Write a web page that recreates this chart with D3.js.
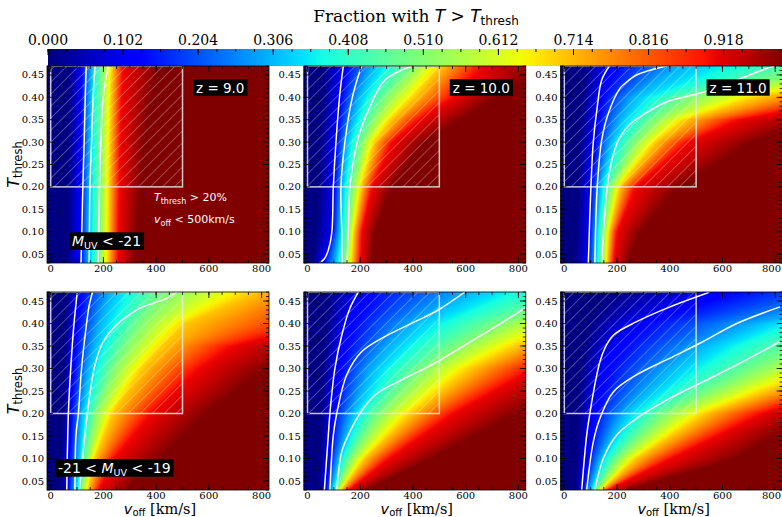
<!DOCTYPE html>
<html><head><meta charset="utf-8">
<script src="https://cdn.jsdelivr.net/npm/d3@7"></script>
<style>html,body{margin:0;padding:0;background:#fff;}svg{display:block;}</style>
</head><body>
<script>
// ---------------- data ----------------
const redshiftLabels = ["z = 9.0", "z = 10.0", "z = 11.0"];
const fracLevels = [0, 0.1, 0.3, 0.5, 0.7, 0.9, 1.0];
const threshRows = [0.03, 0.10, 0.20, 0.30, 0.35, 0.40, 0.47];

// v_off [km/s] at which the fraction reaches each of fracLevels, one row per threshRows entry
const crossBrightZ9 = [
  [60, 108, 143, 185, 219, 254, 320],
  [62, 108, 143, 187, 221, 256, 326],
  [64, 109, 145, 188, 223, 259, 340],
  [66, 110, 147, 190, 226, 262, 355],
  [67, 110, 148, 191, 228, 264, 365],
  [68, 111, 150, 192, 230, 267, 380],
  [70, 113, 153, 196, 234, 273, 410]
];
const crossBrightZ10 = [
  [20, 54, 104, 142, 170, 199, 243],
  [30, 92, 120, 155, 177, 205, 255],
  [40, 98, 130, 170, 205, 243, 319],
  [45, 104, 148, 205, 255, 319, 445],
  [50, 110, 168, 245, 320, 420, 580],
  [55, 117, 193, 294, 408, 547, 722],
  [60, 135, 245, 400, 510, 660, 900]
];
const crossBrightZ11 = [
  [40, 85, 116, 142, 163, 186, 237],
  [45, 91, 120, 148, 171, 199, 287],
  [50, 97, 135, 173, 211, 268, 439],
  [55, 110, 173, 262, 350, 464, 716],
  [60, 117, 211, 338, 464, 654, 950],
  [65, 129, 262, 470, 740, 1100, 1500],
  [70, 162, 440, 1000, 1400, 1800, 2200]
];
const crossFaintZ9 = [
  [35, 61, 92, 117, 143, 181, 288],
  [40, 67, 105, 134, 168, 237, 414],
  [45, 73, 117, 168, 237, 376, 592],
  [50, 80, 143, 237, 351, 554, 819],
  [52, 84, 163, 285, 430, 680, 1000],
  [55, 88, 187, 339, 516, 1000, 1300],
  [60, 101, 225, 430, 780, 1200, 1600]
];
const crossFaintZ10 = [
  [40, 66, 91, 111, 128, 155, 218],
  [45, 79, 117, 161, 218, 307, 471],
  [50, 91, 168, 269, 396, 547, 800],
  [55, 111, 243, 433, 622, 849, 1100],
  [60, 125, 310, 560, 800, 1050, 1350],
  [65, 142, 396, 724, 1000, 1300, 1600],
  [70, 193, 609, 1100, 1500, 1900, 2300]
];
const crossFaintZ11 = [
  [40, 66, 97, 123, 142, 163, 237],
  [45, 85, 135, 199, 274, 401, 654],
  [50, 104, 224, 376, 540, 742, 950],
  [60, 135, 401, 724, 1000, 1300, 1600],
  [70, 180, 520, 900, 1250, 1600, 2000],
  [90, 249, 724, 1100, 1500, 1900, 2300],
  [150, 540, 1300, 1900, 2400, 2900, 3400]
];

// white contour curves, [v_off, T_thresh] points
const linesBrightZ9 = [
  [[115,0.03],[118,0.1],[122,0.2],[127,0.3],[131,0.4],[135,0.47]],
  [[146,0.03],[147,0.1],[149,0.2],[155,0.3],[161,0.4],[168,0.47]],
  [[180,0.03],[182,0.1],[185,0.2],[190,0.3],[199,0.4],[218,0.47]]
];
const linesBrightZ10 = [
  [[47,0.031],[65,0.04],[79,0.059],[92,0.096],[98,0.2],[108,0.3],[123,0.409],[136,0.47]],
  [[132,0.03],[130,0.1],[127,0.2],[142,0.3],[170,0.4],[205,0.47]],
  [[150,0.03],[155,0.1],[161,0.2],[193,0.31],[243,0.387],[294,0.439],[395,0.47]]
];
const linesBrightZ11 = [
  [[91,0.03],[101,0.2],[110,0.3],[125,0.379],[142,0.439],[171,0.47]],
  [[116,0.03],[125,0.2],[142,0.305],[167,0.364],[211,0.42],[230,0.431],[274,0.45],[388,0.47]],
  [[142,0.03],[163,0.2],[185,0.27],[210,0.31],[249,0.34],[310,0.365],[388,0.39],[536,0.413],[660,0.44],[774,0.466],[800,0.47]]
];
const linesFaintZ9 = [
  [[61,0.03],[67,0.2],[76,0.3],[88,0.397],[101,0.47]],
  [[92,0.03],[96,0.152],[105,0.2],[117,0.3],[134,0.39],[146,0.44],[159,0.47]],
  [[109,0.03],[130,0.152],[139,0.2],[168,0.308],[200,0.36],[250,0.397],[339,0.434],[440,0.456],[478,0.47]]
];
const linesFaintZ10 = [
  [[64,0.03],[79,0.152],[85,0.2],[104,0.3],[130,0.374],[161,0.434],[193,0.47]],
  [[85,0.03],[98,0.152],[111,0.2],[149,0.286],[205,0.337],[281,0.367],[408,0.404],[496,0.43],[597,0.47]],
  [[111,0.03],[130,0.115],[155,0.152],[199,0.2],[256,0.241],[344,0.271],[471,0.308],[597,0.352],[724,0.397],[825,0.434]]
];
const linesFaintZ11 = [
  [[66,0.03],[85,0.152],[97,0.2],[116,0.264],[135,0.315],[154,0.345],[186,0.374],[274,0.404],[401,0.437],[553,0.47]],
  [[85,0.03],[110,0.137],[135,0.189],[186,0.248],[274,0.286],[401,0.323],[527,0.36],[654,0.4],[818,0.437]],
  [[116,0.03],[148,0.1],[199,0.152],[274,0.189],[401,0.234],[527,0.271],[654,0.308],[818,0.36]]
];

const cbarTicks = [0.000, 0.102, 0.204, 0.306, 0.408, 0.510, 0.612, 0.714, 0.816, 0.918];
const xTicks = [0, 200, 400, 600, 800];
const yTicks = [0.05, 0.10, 0.15, 0.20, 0.25, 0.30, 0.35, 0.40, 0.45];
const selectionBox = {vMax: 500, tMin: 0.20};

// ---------------- layout ----------------
const W = 782, H = 517;
const colLeft = [47, 303.8, 560.6];
const rowTop = [66, 292];
const panelW = 222, panelH = [197, 198];
const vDomain = [-14, 828], tDomain = [0.03, 0.47];
const SERIF = "'DejaVu Serif', serif";
const SANS = "'DejaVu Sans', sans-serif";

const panels = [
  {row: 0, col: 0, cross: crossBrightZ9,  lines: linesBrightZ9},
  {row: 0, col: 1, cross: crossBrightZ10, lines: linesBrightZ10},
  {row: 0, col: 2, cross: crossBrightZ11, lines: linesBrightZ11},
  {row: 1, col: 0, cross: crossFaintZ9,   lines: linesFaintZ9},
  {row: 1, col: 1, cross: crossFaintZ10,  lines: linesFaintZ10},
  {row: 1, col: 2, cross: crossFaintZ11,  lines: linesFaintZ11}
];

// jet colormap built from per-channel linear scales
const jetR = d3.scaleLinear().domain([0, 0.35, 0.66, 0.89, 1]).range([0, 0, 1, 1, 0.5]).clamp(true);
const jetG = d3.scaleLinear().domain([0, 0.125, 0.375, 0.64, 0.91, 1]).range([0, 0, 1, 1, 0, 0]).clamp(true);
const jetB = d3.scaleLinear().domain([0, 0.11, 0.34, 0.65, 1]).range([0.5, 1, 1, 0, 0]).clamp(true);
const jet = f => [jetR(f) * 255, jetG(f) * 255, jetB(f) * 255];

const svg = d3.select("body").append("svg").attr("width", W).attr("height", H)
  .style("background", "#fff");

// ---------------- title + colorbar ----------------
const title = svg.append("text").attr("x", 416).attr("y", 22).attr("text-anchor", "middle")
  .attr("font-family", SERIF).attr("font-size", 17).attr("fill", "#000");
title.append("tspan").text("Fraction with ");
title.append("tspan").attr("font-family", SANS).attr("font-style", "italic").text("T");
title.append("tspan").attr("font-family", SANS).text(" > ");
title.append("tspan").attr("font-family", SANS).attr("font-style", "italic").text("T");
title.append("tspan").attr("font-family", SANS).attr("font-size", 12).attr("dy", 3).text("thresh");

const cbX = d3.scaleLinear().domain([0, 1]).range([48, 784]);
const cbY0 = 49, cbY1 = 66;
const defs = svg.append("defs");
const grad = defs.append("linearGradient").attr("id", "jetgrad")
  .attr("gradientUnits", "userSpaceOnUse").attr("x1", cbX(0)).attr("x2", cbX(1)).attr("y1", 0).attr("y2", 0);
d3.range(0, 1.0001, 0.01).forEach(f => {
  const c = jet(f);
  grad.append("stop").attr("offset", f).attr("stop-color", d3.rgb(c[0], c[1], c[2]).formatHex());
});
svg.append("rect").attr("x", cbX(0)).attr("y", cbY0).attr("width", cbX(1) - cbX(0)).attr("height", cbY1 - cbY0)
  .attr("fill", "url(#jetgrad)");
const cbMinor = d3.range(0, 1.0, 0.0255);
svg.append("g").selectAll("line").data(cbMinor).join("line")
  .attr("x1", d => cbX(d)).attr("x2", d => cbX(d)).attr("y1", cbY0).attr("y2", cbY0 + 3)
  .attr("stroke", "#000").attr("stroke-width", 1);
svg.append("g").selectAll("line").data(cbarTicks).join("line")
  .attr("x1", d => cbX(d)).attr("x2", d => cbX(d)).attr("y1", cbY0).attr("y2", cbY0 + 6)
  .attr("stroke", "#000").attr("stroke-width", 1);
svg.append("g").selectAll("text").data(cbarTicks).join("text")
  .attr("x", d => cbX(d)).attr("y", 45).attr("text-anchor", "middle")
  .attr("font-family", SERIF).attr("font-size", 14).attr("fill", "#000")
  .text(d => d3.format(".3f")(d));

// hatch pattern for the selection box
const hatch = defs.append("pattern").attr("id", "hatch").attr("patternUnits", "userSpaceOnUse")
  .attr("width", 8.5).attr("height", 8.5).attr("patternTransform", "rotate(45)");
hatch.append("line").attr("x1", 0).attr("y1", 0).attr("x2", 0).attr("y2", 8.5)
  .attr("stroke", "rgba(255,255,255,0.55)").attr("stroke-width", 1);

// ---------------- panels ----------------
panels.forEach((p, i) => {
  const x0 = colLeft[p.col], y0 = rowTop[p.row], ph = panelH[p.row];
  const x = d3.scaleLinear().domain(vDomain).range([x0, x0 + panelW]);
  const y = d3.scaleLinear().domain(tDomain).range([y0 + ph, y0]);
  const g = svg.append("g");

  // heat map raster
  const cw = Math.round(panelW), ch = Math.round(ph);
  const canvas = document.createElement("canvas");
  canvas.width = cw; canvas.height = ch;
  const ctx = canvas.getContext("2d");
  const img = ctx.createImageData(cw, ch);
  const rowIdx = d3.scaleLinear().domain(threshRows).range(d3.range(threshRows.length)).clamp(true);
  for (let py = 0; py < ch; py++) {
    const t = y.invert(y0 + py + 0.5);
    const r = rowIdx(t);
    const lo = Math.min(Math.floor(r), threshRows.length - 2), fr = r - lo;
    const cross = fracLevels.map((_, k) => p.cross[lo][k] * (1 - fr) + p.cross[lo + 1][k] * fr);
    const frac = d3.scaleLinear().domain(cross).range(fracLevels).clamp(true);
    for (let px = 0; px < cw; px++) {
      const v = x.invert(x0 + px + 0.5);
      const c = jet(frac(v));
      const o = (py * cw + px) * 4;
      img.data[o] = c[0]; img.data[o + 1] = c[1]; img.data[o + 2] = c[2]; img.data[o + 3] = 255;
    }
  }
  ctx.putImageData(img, 0, 0);
  g.append("image").attr("x", x0).attr("y", y0).attr("width", panelW).attr("height", ph)
    .attr("preserveAspectRatio", "none").attr("href", canvas.toDataURL());

  const clipId = "clip" + i;
  defs.append("clipPath").attr("id", clipId).append("rect")
    .attr("x", x0).attr("y", y0).attr("width", panelW).attr("height", ph);

  // selection box
  g.append("rect").attr("x", x(0)).attr("y", y(tDomain[1]))
    .attr("width", x(selectionBox.vMax) - x(0)).attr("height", y(selectionBox.tMin) - y(tDomain[1]))
    .attr("fill", "url(#hatch)").attr("stroke", "rgba(235,235,235,0.85)").attr("stroke-width", 1.5)
    .attr("clip-path", `url(#${clipId})`);

  // contour curves
  const line = d3.line().x(d => x(d[0])).y(d => y(d[1])).curve(d3.curveCatmullRom.alpha(0.5));
  g.append("g").attr("clip-path", `url(#${clipId})`).selectAll("path").data(p.lines).join("path")
    .attr("d", line).attr("fill", "none").attr("stroke", "#fff").attr("stroke-width", 1.5);

  // ticks (inside, all four sides)
  const tk = g.append("g").attr("stroke", "#000").attr("stroke-width", 0.8);
  const xMinor = d3.range(0, 801, 50);
  const yMinor = d3.range(3, 48, 1).map(d => d / 100);
  const addX = (vals, len) => vals.forEach(v => {
    tk.append("line").attr("x1", x(v)).attr("x2", x(v)).attr("y1", y0 + ph).attr("y2", y0 + ph - len);
    tk.append("line").attr("x1", x(v)).attr("x2", x(v)).attr("y1", y0).attr("y2", y0 + len);
  });
  const addY = (vals, len) => vals.forEach(t => {
    tk.append("line").attr("y1", y(t)).attr("y2", y(t)).attr("x1", x0).attr("x2", x0 + len);
    tk.append("line").attr("y1", y(t)).attr("y2", y(t)).attr("x1", x0 + panelW).attr("x2", x0 + panelW - len);
  });
  addX(xMinor, 3); addX(xTicks, 6);
  addY(yMinor, 3); addY(yTicks, 6);

  g.append("rect").attr("x", x0).attr("y", y0).attr("width", panelW).attr("height", ph)
    .attr("fill", "none").attr("stroke", "#000").attr("stroke-width", 0.8);

  // tick labels (the last label is kept inside the page edge)
  g.append("g").selectAll("text").data(xTicks).join("text")
    .attr("x", d => Math.min(x(d), W - 10.5)).attr("y", y0 + ph + 8.5).attr("text-anchor", "middle")
    .attr("font-family", SERIF).attr("font-size", 10).text(d => d);
  g.append("g").selectAll("text").data(yTicks).join("text")
    .attr("x", x0 - 3).attr("y", d => y(d) + 3.5).attr("text-anchor", "end")
    .attr("font-family", SERIF).attr("font-size", 10).text(d => d3.format(".2f")(d));

  // redshift tag
  if (p.row === 0) {
    const tx = x0 + 149, ty = y0 + 27;
    const t = g.append("text").attr("x", tx).attr("y", ty).attr("font-family", SANS)
      .attr("font-size", 13.5).attr("fill", "#fff").text(redshiftLabels[p.col]);
    const bb = t.node().getBBox();
    g.insert("rect", () => t.node()).attr("x", bb.x - 3).attr("y", y0 + 13.3).attr("width", bb.width + 6)
      .attr("height", 16.4).attr("fill", "#000");
  }

  // x label
  if (p.row === 1) {
    const xl = g.append("text").attr("x", x0 + panelW / 2 + 2).attr("y", 514).attr("text-anchor", "middle")
      .attr("font-family", SERIF).attr("font-size", 14.5);
    xl.append("tspan").attr("font-family", SANS).attr("font-style", "italic").text("v");
    xl.append("tspan").attr("font-family", SANS).attr("font-size", 10).attr("dy", 2).text("off");
    xl.append("tspan").attr("dy", -2).text(" [km/s]");
  }
  // y label
  if (p.col === 0) {
    const cy = y0 + ph / 2;
    const yl = g.append("text").attr("transform", `translate(19,${cy}) rotate(-90)`)
      .attr("text-anchor", "middle").attr("font-family", SANS).attr("font-size", 16);
    yl.append("tspan").attr("font-style", "italic").text("T");
    yl.append("tspan").attr("font-size", 11.5).attr("dy", 3).text("thresh");
  }
});

// ---------------- annotations ----------------
function magTag(xLeft, yTop, prefix) {
  const t = svg.append("text").attr("x", xLeft).attr("y", yTop + 14).attr("font-family", SANS)
    .attr("font-size", 14).attr("fill", "#fff");
  if (prefix) t.append("tspan").text(prefix);
  t.append("tspan").attr("font-style", "italic").text("M");
  t.append("tspan").attr("font-size", 9.5).attr("dy", 3).text("UV");
  t.append("tspan").attr("dy", -3).text(" < -" + (prefix ? "19" : "21"));
  const bb = t.node().getBBox();
  svg.insert("rect", () => t.node()).attr("x", bb.x - 3).attr("y", yTop).attr("width", bb.width + 6)
    .attr("height", 17.7).attr("fill", "#000");
}
magTag(72, 232.3, null);
magTag(58, 459, "-21 < ");

const n1 = svg.append("text").attr("x", 154).attr("y", 201).attr("font-family", SANS)
  .attr("font-size", 11).attr("fill", "#fff");
n1.append("tspan").attr("font-style", "italic").text("T");
n1.append("tspan").attr("font-size", 8).attr("dy", 2.5).text("thresh");
n1.append("tspan").attr("dy", -2.5).text(" > 20%");
const n2 = svg.append("text").attr("x", 154).attr("y", 223).attr("font-family", SANS)
  .attr("font-size", 11).attr("fill", "#fff");
n2.append("tspan").attr("font-style", "italic").text("v");
n2.append("tspan").attr("font-size", 8).attr("dy", 2.5).text("off");
n2.append("tspan").attr("dy", -2.5).text(" < 500km/s");
</script>
</body></html>
